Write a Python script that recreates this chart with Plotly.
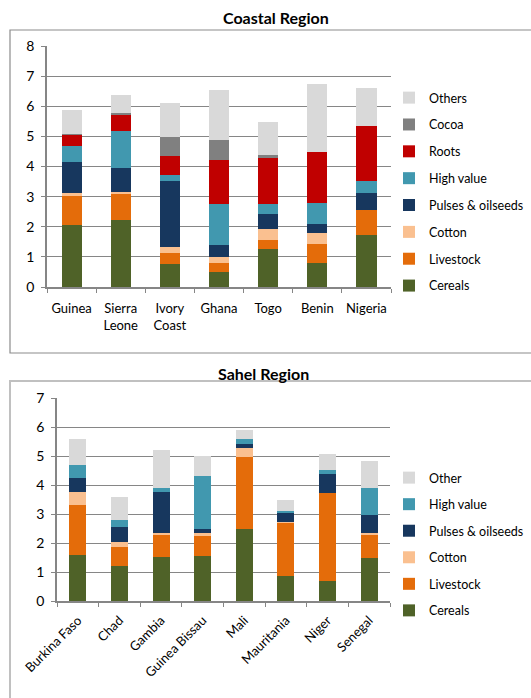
import plotly.graph_objects as go

W, H = 531, 698

# ---------------- Coastal data ----------------
coastal_countries = ["Guinea", "Sierra<br>Leone", "Ivory<br>Coast", "Ghana", "Togo", "Benin", "Nigeria"]
coastal_cereals = [2.06, 2.24, 0.77, 0.50, 1.25, 0.80, 1.72]
coastal_livestock = [0.97, 0.88, 0.35, 0.31, 0.30, 0.62, 0.83]
coastal_cotton = [0.09, 0.02, 0.22, 0.17, 0.39, 0.38, 0.0]
coastal_pulses = [1.02, 0.80, 2.19, 0.40, 0.47, 0.28, 0.56]
coastal_highvalue = [0.55, 1.25, 0.20, 1.39, 0.35, 0.72, 0.42]
coastal_roots = [0.36, 0.51, 0.61, 1.46, 1.55, 1.68, 1.83]
coastal_cocoa = [0.04, 0.07, 0.65, 0.65, 0.06, 0.0, 0.0]
coastal_others = [0.80, 0.62, 1.13, 1.67, 1.11, 2.27, 1.23]

# ---------------- Sahel data ----------------
sahel_countries = ["Burkina Faso", "Chad", "Gambia", "Guinea Bissau", "Mali", "Mauritania", "Niger", "Senegal"]
sahel_cereals = [1.60, 1.22, 1.53, 1.56, 2.48, 0.87, 0.68, 1.49]
sahel_livestock = [1.70, 0.64, 0.75, 0.71, 2.48, 1.84, 3.03, 0.81]
sahel_cotton = [0.46, 0.19, 0.05, 0.06, 0.30, 0.03, 0.0, 0.06]
sahel_pulses = [0.47, 0.51, 1.43, 0.15, 0.16, 0.31, 0.67, 0.59]
sahel_highvalue = [0.45, 0.22, 0.13, 1.83, 0.16, 0.05, 0.13, 0.95]
sahel_other = [0.90, 0.81, 1.31, 0.70, 0.33, 0.38, 0.57, 0.92]

C_CEREALS = "#4F6228"
C_LIVE = "#E46C0A"
C_COTTON = "#FAC090"
C_PULSES = "#17375E"
C_HV = "#4198AF"
C_ROOTS = "#C00000"
C_COCOA = "#808080"
C_OTHERS = "#D9D9D9"

FONT = "Lato, Carlito, Calibri, sans-serif"

fig = go.Figure()

coastal_series = [
    ("Cereals", coastal_cereals, C_CEREALS),
    ("Livestock", coastal_livestock, C_LIVE),
    ("Cotton", coastal_cotton, C_COTTON),
    ("Pulses & oilseeds", coastal_pulses, C_PULSES),
    ("High value", coastal_highvalue, C_HV),
    ("Roots", coastal_roots, C_ROOTS),
    ("Cocoa", coastal_cocoa, C_COCOA),
    ("Others", coastal_others, C_OTHERS),
]
n = len(coastal_series)
for i, (name, vals, col) in enumerate(coastal_series):
    fig.add_trace(go.Bar(
        x=coastal_countries, y=vals, name=name, marker=dict(color=col, line=dict(width=0)),
        xaxis="x", yaxis="y", legend="legend", legendgroup="c" + str(i),
        legendrank=n - i, width=0.41,
    ))

sahel_series = [
    ("Cereals", sahel_cereals, C_CEREALS),
    ("Livestock", sahel_livestock, C_LIVE),
    ("Cotton", sahel_cotton, C_COTTON),
    ("Pulses & oilseeds", sahel_pulses, C_PULSES),
    ("High value", sahel_highvalue, C_HV),
    ("Other", sahel_other, C_OTHERS),
]
m = len(sahel_series)
for i, (name, vals, col) in enumerate(sahel_series):
    fig.add_trace(go.Bar(
        x=sahel_countries, y=vals, name=name, marker=dict(color=col, line=dict(width=0)),
        xaxis="x2", yaxis="y2", legend="legend2", legendgroup="s" + str(i),
        legendrank=m - i, width=0.41,
    ))

def px(x):
    return x / W

def py(y):
    return 1 - y / H

axis_common = dict(
    showline=True, linecolor="#868686", linewidth=1.5, automargin=False,
    ticks="outside", tickcolor="#868686", ticklen=4,
)

fig.update_layout(
    width=W, height=H,
    margin=dict(l=0, r=0, t=0, b=0, autoexpand=False),
    paper_bgcolor="white", plot_bgcolor="white",
    barmode="stack",
    showlegend=True,
    font=dict(family=FONT, size=13, color="#000000"),
    xaxis=dict(domain=[px(47), px(391)], anchor="y", tickson="boundaries", tickangle=0,
               tickfont=dict(family=FONT, size=13, color="#000000"),
               ticklabelstandoff=9, showgrid=False, **axis_common),
    yaxis=dict(domain=[py(287), py(46)], anchor="x", range=[0, 8], dtick=1,
               tickfont=dict(family=FONT, size=14, color="#000000"),
               showgrid=True, gridcolor="#868686", gridwidth=1, zeroline=False,
               ticklabelstandoff=4, **axis_common),
    xaxis2=dict(domain=[px(57), px(390)], anchor="y2", tickson="boundaries",
                tickfont=dict(family=FONT, size=13, color="#000000"),
                tickangle=-45, ticklabelstandoff=5, showgrid=False, **axis_common),
    yaxis2=dict(domain=[py(601), py(398)], anchor="x2", range=[0, 7], dtick=1,
                tickfont=dict(family=FONT, size=14, color="#000000"),
                showgrid=True, gridcolor="#868686", gridwidth=1, zeroline=False,
                ticklabelstandoff=4, **axis_common),
    legend=dict(x=px(389), y=py(83), xanchor="left", yanchor="top",
                xref="container", yref="container",
                traceorder="grouped", tracegroupgap=7.6,
                font=dict(family=FONT, size=12.5), itemwidth=30, bgcolor="rgba(0,0,0,0)"),
    legend2=dict(x=px(389), y=py(463), xanchor="left", yanchor="top",
                 xref="container", yref="container",
                 traceorder="grouped", tracegroupgap=7.3,
                 font=dict(family=FONT, size=12.5), itemwidth=30, bgcolor="rgba(0,0,0,0)"),
    shapes=[
        dict(type="rect", xref="paper", yref="paper", x0=px(10), x1=px(540), y0=py(353), y1=py(30),
             line=dict(color="#8C8C8C", width=1.2), layer="below"),
        dict(type="rect", xref="paper", yref="paper", x0=px(10), x1=px(540), y0=py(710), y1=py(381),
             line=dict(color="#C0C0C0", width=2), layer="below"),
    ],
    annotations=[
        dict(text="<b>Coastal Region</b>", x=px(276), y=py(18), xref="paper", yref="paper",
             showarrow=False, font=dict(family=FONT, size=16, color="#000000"),
             xanchor="center", yanchor="middle"),
        dict(text="<b>Sahel Region</b>", x=px(263), y=py(373), xref="paper", yref="paper",
             showarrow=False, font=dict(family=FONT, size=16, color="#000000"),
             xanchor="center", yanchor="middle"),
    ],
)

fig.write_html("out.html")
